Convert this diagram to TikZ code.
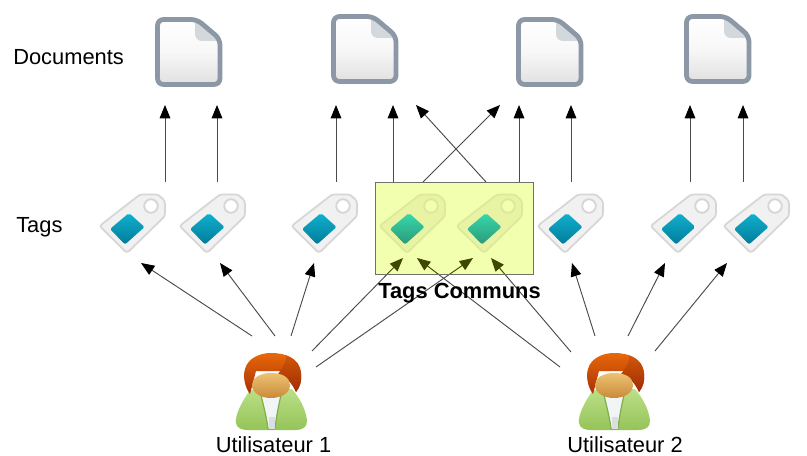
\documentclass[tikz,border=0pt]{standalone}
\usepackage{fontspec}
\setmainfont{Liberation Sans}
\usetikzlibrary{arrows.meta}
\definecolor{lineg}{HTML}{4A4A4A}
\definecolor{docedge}{HTML}{8C98A5}
\definecolor{foldc}{HTML}{D3D8DD}
\definecolor{tagedge}{HTML}{D6D6D6}
\definecolor{tagfill}{HTML}{F1F1F1}
\definecolor{boxfill}{HTML}{F1FFAE}
\definecolor{boxedge}{HTML}{70726A}
\definecolor{olive}{HTML}{3F4700}
\definecolor{tagtop}{HTML}{12B0CE}
\definecolor{tagbot}{HTML}{007C9A}
\definecolor{ctagbody}{HTML}{E8F3A4}
\definecolor{ctagedge}{HTML}{DCE99C}
\definecolor{ctagtop}{HTML}{38D8AC}
\definecolor{ctagbot}{HTML}{2A9A78}
\definecolor{hairtop}{HTML}{E8680A}
\definecolor{hairbot}{HTML}{A83004}
\definecolor{hairdarktop}{HTML}{D05608}
\definecolor{hairdarkbot}{HTML}{A02C04}
\definecolor{facetop}{HTML}{EDC272}
\definecolor{facebot}{HTML}{C98A3A}
\definecolor{bodytop}{HTML}{BCDF88}
\definecolor{bodybot}{HTML}{94C458}
\definecolor{collar}{HTML}{7FAE4A}
\definecolor{shirt}{HTML}{F2F5F6}
\definecolor{shirtlow}{HTML}{D9DEE0}
\tikzset{
  x=.75pt,y=-.75pt,
  arrowline/.style={draw=lineg,line width=.7pt,-{Triangle[length=10pt,width=8pt,fill=black,color=black]}},
  arrowin/.style={draw=olive,line width=.7pt,-{Triangle[length=10pt,width=8pt,fill=olive,color=olive]}},
  lbl/.style={inner sep=0pt,font=\fontsize{16.4pt}{18pt}\selectfont,text=black},
}
% #1 x, #2 y, doc outer corner
\newcommand{\docicon}[2]{%
  \begin{scope}[shift={(#1,#2)}]
    \path[top color=white,bottom color=white!88!black,middle color=white!97!black]
      (3,3) -- (43,3) -- (64.5,21) -- (64.5,67.5) -- (3,67.5) -- cycle;
    \path[fill=foldc] (40,3) -- (40,17) .. controls (40,21) and (43,24) .. (47,24) -- (65,24) -- cycle;
    \draw[docedge,line width=3.6pt,rounded corners=4.5pt,line join=round]
      (2.5,2.5) -- (42,2.5) -- (65,22) -- (65,67.5) -- (2.5,67.5) -- cycle;
  \end{scope}}
% #1 x, #2 tag body, #3 tag edge, #4 inner top, #5 inner bottom, #6 hole
\newcommand{\tagicon}[6]{%
  \begin{scope}[shift={(#1,194)}]
    \draw[draw=#3,fill=#2,line width=1.3pt,rounded corners=2pt,line join=round]
      (0.5,32) -- (28,59) -- (66,22) -- (66,7) -- (59,.5) -- (41,.5) -- cycle;
    \path[rounded corners=1.5pt,top color=#4,bottom color=#5]
      (30,19) -- (45.5,33) -- (26,50.5) -- (11,35) -- cycle;
    \draw[draw=#3,fill=#6,line width=1.4pt] (52,12) circle (6.8);
  \end{scope}}
\newcommand{\usericon}[1]{%
  \begin{scope}[shift={(#1,353)}]
    % body
    \path[top color=bodytop,bottom color=bodybot]
      (14,37) .. controls (5,50) and (-1,62) .. (0,70) .. controls (1,75) and (5,77) .. (12,77)
      -- (59,77) .. controls (67,77) and (71,74) .. (71,68) .. controls (70,56) and (63,44) .. (56,36) -- cycle;
    \path[fill=shirt,draw=collar,line width=.9pt]
      (25,42) .. controls (28,55) and (31,66) .. (32,76) -- (39,76) .. controls (40,66) and (42,55) .. (45,42) -- cycle;
    \path[fill=shirtlow] (32.5,64) -- (38.5,64) -- (38.5,76) -- (32.5,76) -- cycle;
    % hair
    \path[top color=hairtop,bottom color=hairbot]
      (14,41) .. controls (8,33) and (7,22) .. (9,16) .. controls (12,5) and (24,0) .. (35,0)
      .. controls (50,0) and (63,5) .. (65,20) .. controls (66,28) and (64,34) .. (60,39)
      -- (50,18) -- (20,18) -- cycle;
    \path[top color=hairdarktop,bottom color=hairdarkbot] (42,21) .. controls (48,13) and (51,7) .. (50,2.5)
      .. controls (60,6) and (64.5,12) .. (65,21) .. controls (66,28) and (64,34) .. (60,39)
      .. controls (56,30) and (50,24) .. (42,21) -- cycle;
    % face
    \path[top color=facetop,bottom color=facebot]
      (16,32) .. controls (16,25) and (24,20) .. (35,20) .. controls (47,20) and (54,25) .. (54,32)
      .. controls (54,40) and (45,45) .. (35,45) .. controls (25,45) and (16,40) .. (16,32) -- cycle;
  \end{scope}}
\begin{document}
\begin{tikzpicture}
\useasboundingbox (0,0) rectangle (807,456);
\fill[white] (0,0) rectangle (807,456);
% end points of the connectors
\foreach \n/\x in {a/165,b/217,c/336,d/393,g/519,h/571,i/690,j/743}{
  \coordinate (up\n s) at (\x,182); \coordinate (up\n e) at (\x,105);}
\coordinate (upes) at (423,182); \coordinate (upee) at (500,105);
\coordinate (upfs) at (486,182); \coordinate (upfe) at (416,105);
\coordinate (u1a) at (252,336); \coordinate (t1a) at (141,263);
\coordinate (u1b) at (275,336); \coordinate (t1b) at (220,263);
\coordinate (u1c) at (291,336); \coordinate (t1c) at (314,263);
\coordinate (u1d) at (312,351); \coordinate (t1d) at (403,258);
\coordinate (u1e) at (316,367); \coordinate (t1e) at (473,258);
\coordinate (u2a) at (560,367); \coordinate (t2a) at (417,258);
\coordinate (u2b) at (571,352); \coordinate (t2b) at (491,258);
\coordinate (u2c) at (595,336); \coordinate (t2c) at (572,263);
\coordinate (u2d) at (628,336); \coordinate (t2d) at (665,263);
\coordinate (u2e) at (655,351); \coordinate (t2e) at (727,263);
% documents
\docicon{155}{17}
\docicon{331}{14}
\docicon{516}{17}
\docicon{684}{14}
% tags
\foreach \x in {99,179,291,537,650,723}{
  \tagicon{\x}{tagfill}{tagedge}{tagtop}{tagbot}{white}}
% connectors up to documents
\foreach \n in {a,b,c,d,e,f,g,h,i,j}{
  \draw[arrowline] (up\n s) -- (up\n e);}
% connectors from users
\foreach \s/\e in {u1a/t1a,u1b/t1b,u1c/t1c,u1d/t1d,u1e/t1e,u2a/t2a,u2b/t2b,u2c/t2c,u2d/t2d,u2e/t2e}{
  \draw[arrowline] (\s) -- (\e);}
% shared box
\draw[fill=boxfill,draw=boxedge,line width=.7pt] (375,182) rectangle (533,274);
\tagicon{379}{ctagbody}{ctagedge}{ctagtop}{ctagbot}{boxfill}
\tagicon{456}{ctagbody}{ctagedge}{ctagtop}{ctagbot}{boxfill}
\begin{scope}
  \clip (375.5,182.5) rectangle (532.5,273.5);
  \foreach \s/\e in {u1d/t1d,u1e/t1e,u2a/t2a,u2b/t2b}{
    \draw[arrowin] (\s) -- (\e);}
\end{scope}
% texts and users
\usericon{236}
\usericon{579}
\node[lbl,anchor=west] (ldoc) at (13,57) {Documents};
\node[lbl,anchor=west] (ltag) at (16,227) {Tags};
\node[lbl,font=\fontsize{16.4pt}{18pt}\selectfont\bfseries] (lcom) at (459.5,293) {Tags Communs};
\node[lbl] (lu1) at (273.5,445) {Utilisateur 1};
\node[lbl] (lu2) at (625,445) {Utilisateur 2};
\end{tikzpicture}
\end{document}
